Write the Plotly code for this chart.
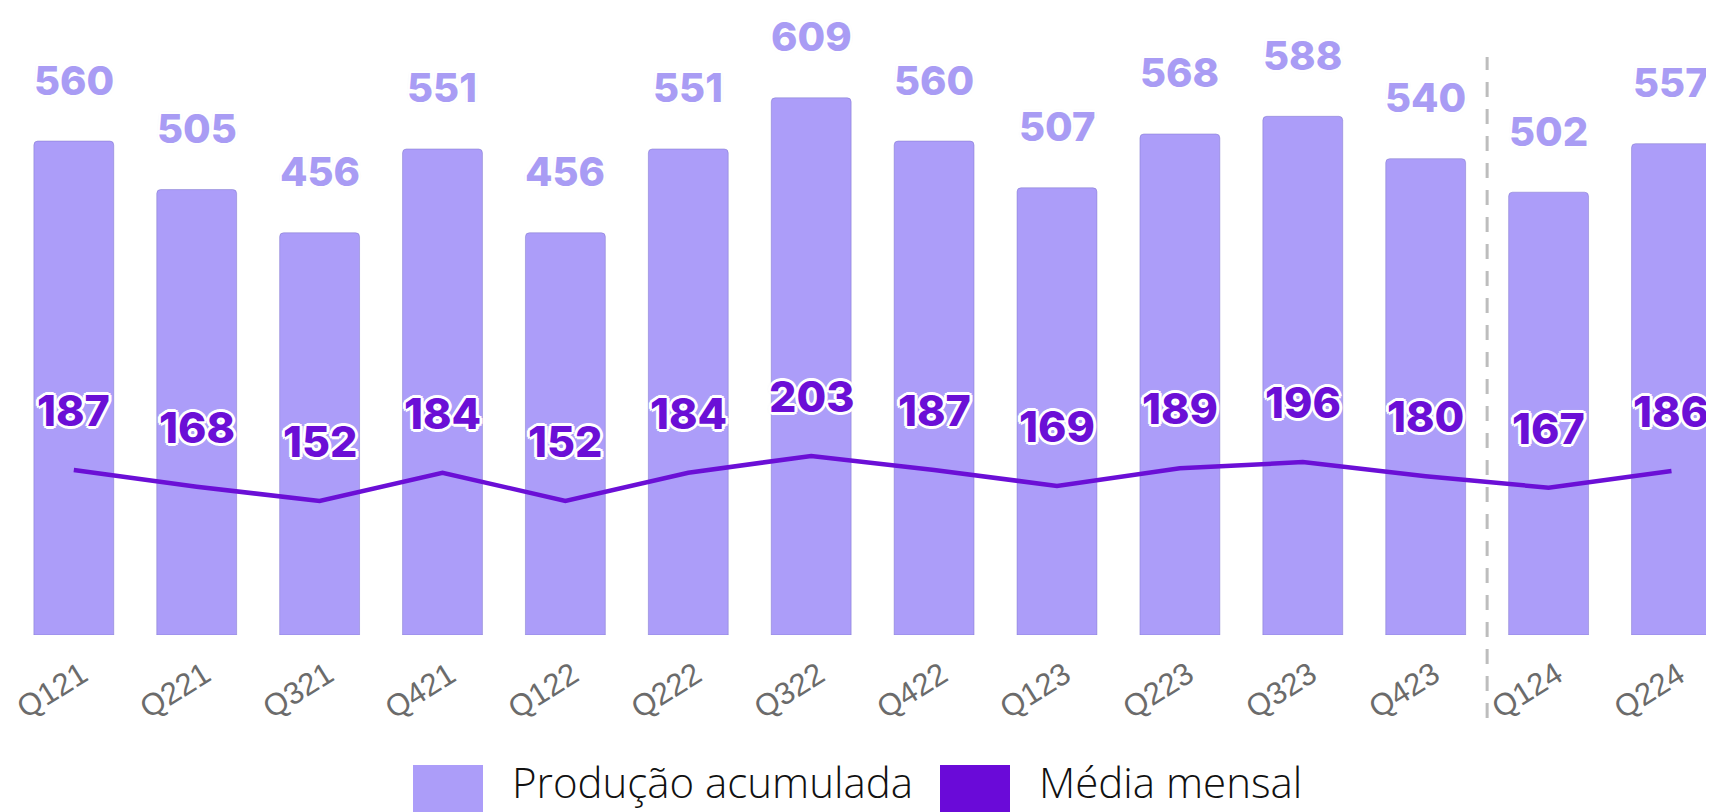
import plotly.graph_objects as go

quarters = ['Q121', 'Q221', 'Q321', 'Q421', 'Q122', 'Q222', 'Q322',
            'Q422', 'Q123', 'Q223', 'Q323', 'Q423', 'Q124', 'Q224']
producao_acumulada = [560, 505, 456, 551, 456, 551, 609, 560, 507, 568, 588, 540, 502, 557]
media_mensal = [187, 168, 152, 184, 152, 184, 203, 187, 169, 189, 196, 180, 167, 186]
legend_labels = ['Produção acumulada', 'Média mensal']

BAR_COLOR = '#ac9df9'
LINE_COLOR = '#6b0fd6'
# page body has an 8px margin, so the figure is a bit smaller than the window
W, H = 1706, 804
PLOT_BOTTOM = 627  # px from figure top where the bars sit


def px_to_paper_x(px):
    return px / W


def px_to_paper_y(py):
    return (PLOT_BOTTOM - py) / PLOT_BOTTOM


fig = go.Figure()

fig.add_trace(go.Bar(
    x=quarters, y=producao_acumulada, name=legend_labels[0],
    marker=dict(color=BAR_COLOR, cornerradius=4,
                line=dict(color='rgba(120,110,200,0.45)', width=1)),
    width=0.65, hoverinfo='x+y',
))

fig.add_trace(go.Scatter(
    x=quarters, y=media_mensal, name=legend_labels[1], mode='lines',
    line=dict(color=LINE_COLOR, width=4.5), hoverinfo='x+y',
))

bar_shadow = ('2px 0 0 #fff, -2px 0 0 #fff, 0 2px 0 #fff, 0 -2px 0 #fff, '
              '2px 2px 0 #fff, -2px -2px 0 #fff, 2px -2px 0 #fff, -2px 2px 0 #fff, '
              '0 0 3px #bbb')
line_shadow = ('3px 0 0 #fff, -3px 0 0 #fff, 0 3px 0 #fff, 0 -3px 0 #fff, '
               '2px 2px 0 #fff, -2px -2px 0 #fff, 2px -2px 0 #fff, -2px 2px 0 #fff, '
               '0 0 4px #ccc')

annotations = []
for q, v in zip(quarters, producao_acumulada):
    annotations.append(dict(
        x=q, y=v, xref='x', yref='y', text=str(v), showarrow=False,
        yshift=61, yanchor='middle',
        font=dict(family='Inter, Noto Sans, sans-serif', size=40, color='#a99cf4',
                  weight=800, shadow=bar_shadow),
    ))
for q, v in zip(quarters, media_mensal):
    annotations.append(dict(
        x=q, y=v, xref='x', yref='y', text=str(v), showarrow=False,
        yshift=60, yanchor='middle',
        font=dict(family='Inter, Noto Sans, sans-serif', size=43, color=LINE_COLOR,
                  weight=800, shadow=line_shadow),
    ))

# rotated quarter labels (drawn as annotations so they can sit like the original)
for q in quarters:
    annotations.append(dict(
        x=q, y=0, xref='x', yref='y', text=q, showarrow=False,
        textangle=-32, xanchor='center', yanchor='middle',
        xshift=-22, yshift=-55,
        font=dict(family='Liberation Sans, Arial, sans-serif', size=31, color='#6b6b6b'),
    ))

# manual legend (big swatches)
legend_items = [(405, 475, BAR_COLOR, 502), (932, 1002, '#6a0ad8', 1029)]
shapes = []
for (x0, x1, col, tx), label in zip(legend_items, legend_labels):
    shapes.append(dict(type='rect', xref='paper', yref='paper',
                       x0=px_to_paper_x(x0), x1=px_to_paper_x(x1),
                       y0=px_to_paper_y(804), y1=px_to_paper_y(757),
                       fillcolor=col, line=dict(width=0)))
    annotations.append(dict(
        x=px_to_paper_x(tx), y=px_to_paper_y(804), xref='paper', yref='paper',
        text=label, showarrow=False, xanchor='left', yanchor='bottom',
        font=dict(family='Open Sans, sans-serif', size=42, color='#111', weight=300),
    ))

# dashed separator between 2023 and 2024
shapes.append(dict(type='line', xref='x', yref='paper', x0=11.5, x1=11.5,
                   y0=px_to_paper_y(710), y1=px_to_paper_y(49),
                   line=dict(color='#bdbdbd', width=3, dash='15px,12px')))

fig.update_layout(
    width=W, height=H,
    margin=dict(l=0, r=0, t=0, b=H - PLOT_BOTTOM),
    paper_bgcolor='white', plot_bgcolor='white',
    showlegend=False,
    annotations=annotations,
    shapes=shapes,
    xaxis=dict(type='category', range=[-0.5354, 13.346], automargin=False,
               showgrid=False, zeroline=False, showline=False, ticks='',
               showticklabels=False),
    yaxis=dict(range=[0, 710.8], visible=False, showgrid=False, zeroline=False,
               automargin=False),
)

fig.write_html('out.html')
